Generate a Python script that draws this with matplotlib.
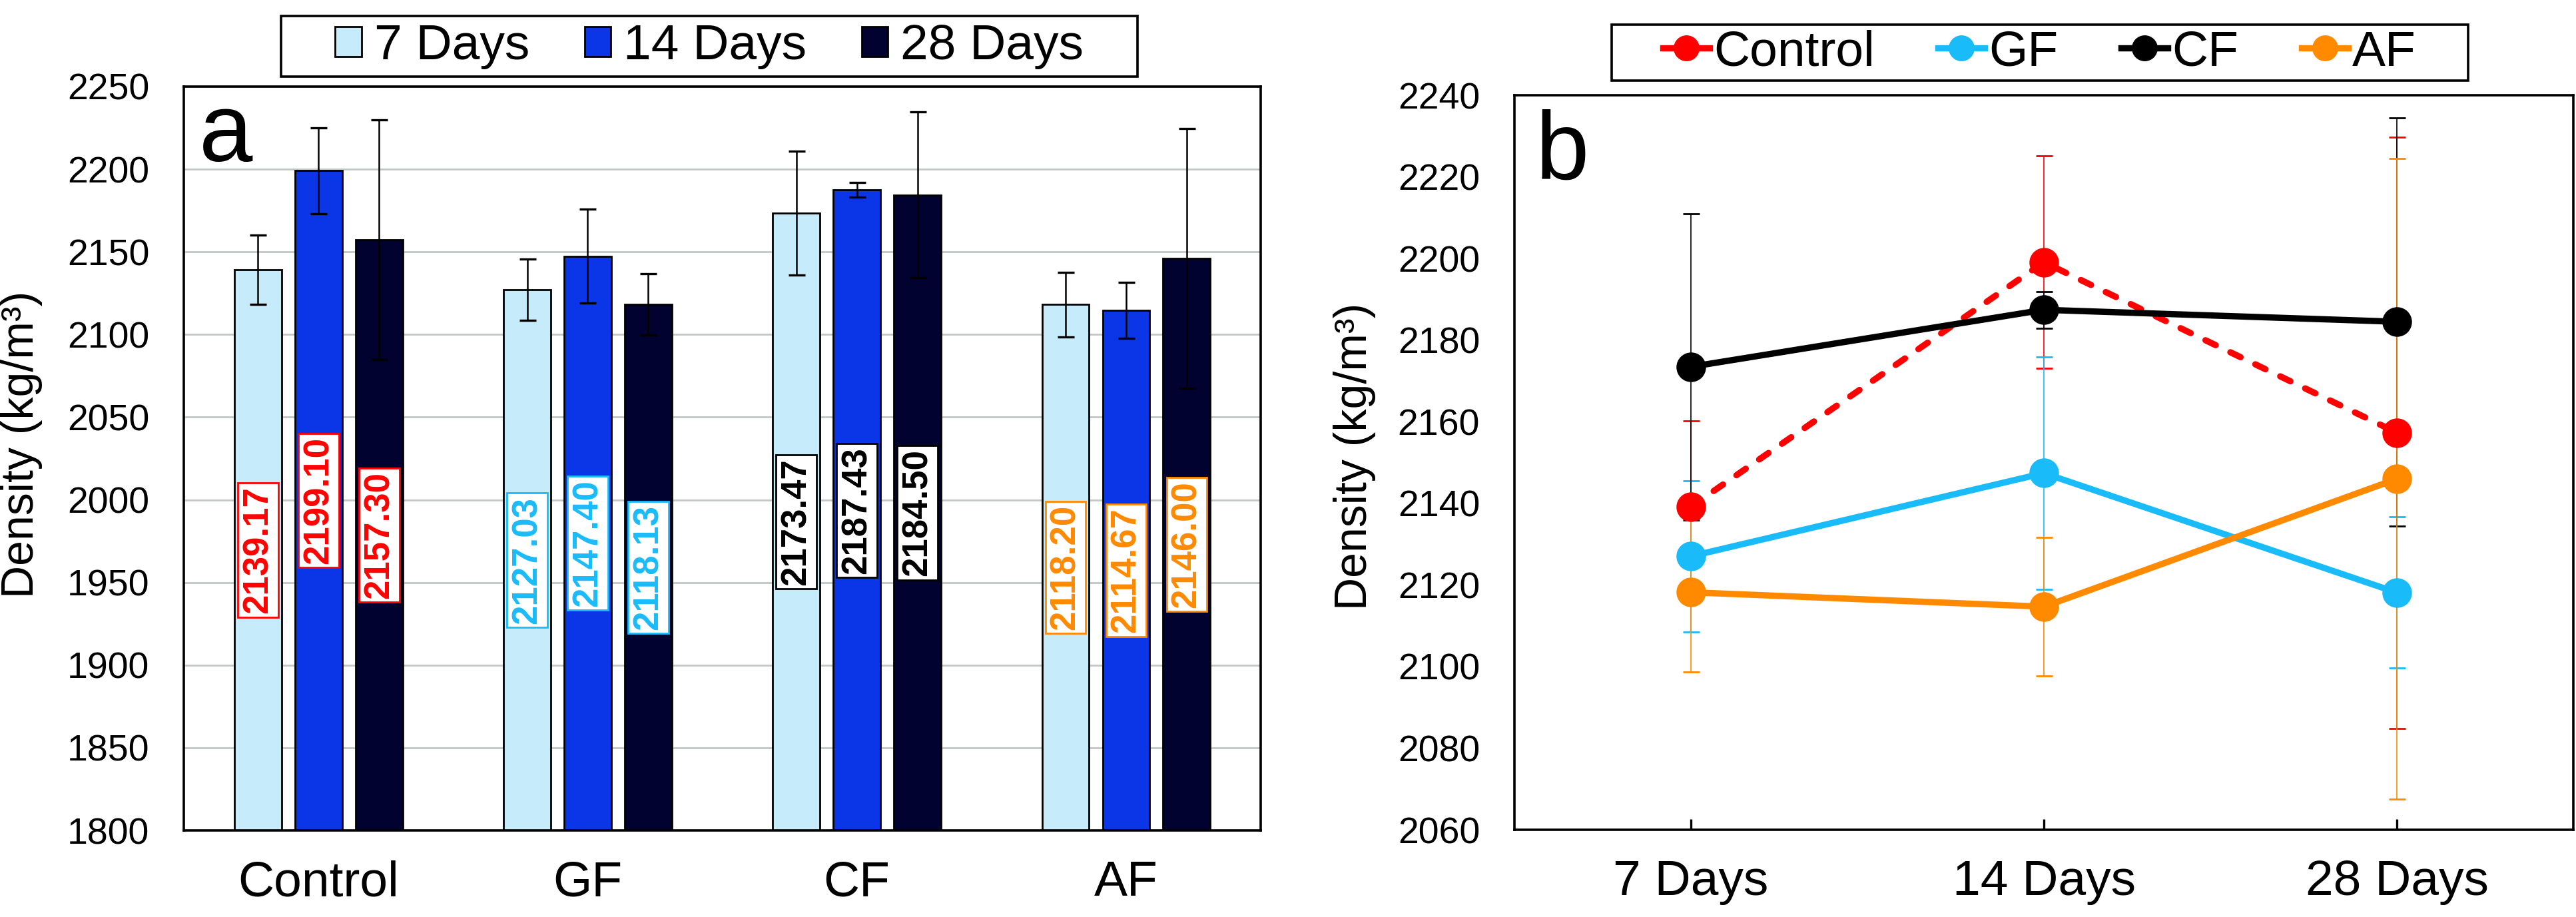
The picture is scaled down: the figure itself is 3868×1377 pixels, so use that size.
import numpy as np
import matplotlib
matplotlib.use('Agg')
import matplotlib.pyplot as plt
from matplotlib.patches import Rectangle, Patch
from matplotlib.lines import Line2D

plt.rcParams['font.family'] = ['Liberation Sans', 'DejaVu Sans']

groups = ['Control', 'GF', 'CF', 'AF']
ages = ['7 Days', '14 Days', '28 Days']

# mean density (kg/m3) at 7, 14, 28 days
control_mean = [2139.17, 2199.10, 2157.30]
gf_mean = [2127.03, 2147.40, 2118.13]
cf_mean = [2173.47, 2187.43, 2184.50]
af_mean = [2118.20, 2114.67, 2146.00]

# standard deviation
control_err = [21.0, 26.0, 72.5]
gf_err = [18.5, 28.5, 18.5]
cf_err = [37.5, 4.5, 50.0]
af_err = [19.5, 17.0, 78.5]

means = [control_mean, gf_mean, cf_mean, af_mean]
errs = [control_err, gf_err, cf_err, af_err]

age_colors = ['#C6EBFA', '#0A36E8', '#020230']
group_colors = ['#FF0000', '#1ABBF9', '#000000', '#FF8A00']

ylim_a = (1800, 2250)
ylim_b = (2060, 2240)

fig = plt.figure(figsize=(19.34, 6.885), dpi=200)
axa = fig.add_axes([0.0714, 0.0944, 0.418, 0.8112])
axb = fig.add_axes([0.5879, 0.0951, 0.4111, 0.801])


def boxed_legend(ax, handles, labels, anchor, extra, **kw):
    leg = ax.legend(handles, labels, loc='lower center', bbox_to_anchor=anchor,
                    frameon=False, borderaxespad=0, **kw)
    fig.canvas.draw()
    bb = leg.get_window_extent()
    inv = fig.transFigure.inverted()
    (x0, y0), (x1, y1) = inv.transform([(bb.x0 - extra, bb.y0), (bb.x1 + extra, bb.y1)])
    fig.add_artist(Rectangle((x0, y0), x1 - x0, y1 - y0, transform=fig.transFigure,
                             fill=False, ec='black', lw=1.3, clip_on=False))
    return leg


# ---------------- panel a: bars ----------------
xg = np.arange(len(groups))
width = 0.175
step = 0.225
for j, age in enumerate(ages):
    vals = [m[j] for m in means]
    ers = [e[j] for e in errs]
    xs = xg + (j - 1) * step
    axa.bar(xs, vals, width, color=age_colors[j], edgecolor='black', linewidth=1.0, zorder=2)
    axa.errorbar(xs, vals, yerr=ers, fmt='none', ecolor='black', elinewidth=0.9,
                 capsize=4.5, capthick=1.2, zorder=3)
    for x, v, c in zip(xs, vals, group_colors):
        axa.text(x, (v + ylim_a[0]) / 2, f'{v:.2f}', rotation=90, ha='center', va='center',
                 fontsize=19, fontweight='bold', color=c, zorder=4,
                 bbox=dict(boxstyle='square,pad=0.1', fc='white', ec=c, lw=1.0))

axa.set_xlim(-0.5, 3.5)
axa.set_ylim(*ylim_a)
axa.set_yticks(np.arange(1800, 2251, 50))
axa.yaxis.grid(True, color='#C0C8C4', linewidth=1.0)
axa.set_axisbelow(True)
axa.set_xticks(xg)
axa.set_xticklabels(groups)
axa.tick_params(axis='x', length=0, labelsize=27, pad=16)
axa.tick_params(axis='y', length=0, labelsize=20, pad=18.7)
axa.set_ylabel('Density (kg/m³)', fontsize=24.5)
axa.yaxis.set_label_coords(-0.131, 0.519)
for s in axa.spines.values():
    s.set_linewidth(1.3)
axa.text(0.014, 0.9, 'a', transform=axa.transAxes, fontsize=52, va='baseline', ha='left')

hand_a = [Patch(facecolor=c, edgecolor='black', linewidth=1.0) for c in age_colors]
boxed_legend(axa, hand_a, ages, (0.488, 1.013), 70, ncol=3, fontsize=27,
             handlelength=0.53, handleheight=0.55, handletextpad=0.25,
             columnspacing=1.1, borderpad=0.15)

# ---------------- panel b: lines ----------------
xa = np.arange(len(ages))
for i, g in enumerate(groups):
    axb.errorbar(xa, means[i], yerr=errs[i], fmt='none', ecolor=group_colors[i],
                 elinewidth=0.6, capsize=4.5, capthick=1.0, zorder=1 + i * 0.01)
handles_b = []
for i, g in enumerate(groups):
    ls = '--' if g == 'Control' else '-'
    ln, = axb.plot(xa, means[i], ls, color=group_colors[i], lw=3.4, marker='o',
                   markersize=15, zorder=3 + i * 0.01)
    if g == 'Control':
        ln.set_dashes((1.8, 2.6))
        ln.set_dash_capstyle('round')
    handles_b.append(Line2D([], [], color=group_colors[i], lw=3.4, marker='o', markersize=13))

axb.set_xlim(-0.5, 2.5)
axb.set_ylim(*ylim_b)
axb.set_yticks(np.arange(2060, 2241, 20))
axb.set_xticks(xa)
axb.set_xticklabels(ages)
axb.tick_params(axis='x', direction='in', length=5.8, width=1.2, labelsize=27, pad=16)
axb.tick_params(axis='y', length=0, labelsize=20, pad=18.7)
axb.set_ylabel('Density (kg/m³)', fontsize=24.5)
axb.yaxis.set_label_coords(-0.131, 0.508)
for s in axb.spines.values():
    s.set_linewidth(1.3)
axb.text(0.02, 0.886, 'b', transform=axb.transAxes, fontsize=52, va='baseline', ha='left')

boxed_legend(axb, handles_b, groups, (0.496, 1.02), 70, ncol=4, fontsize=27,
             handlelength=0.93, handletextpad=0.08, columnspacing=1.27, borderpad=0.1)

fig.savefig('out.png', dpi=200)
